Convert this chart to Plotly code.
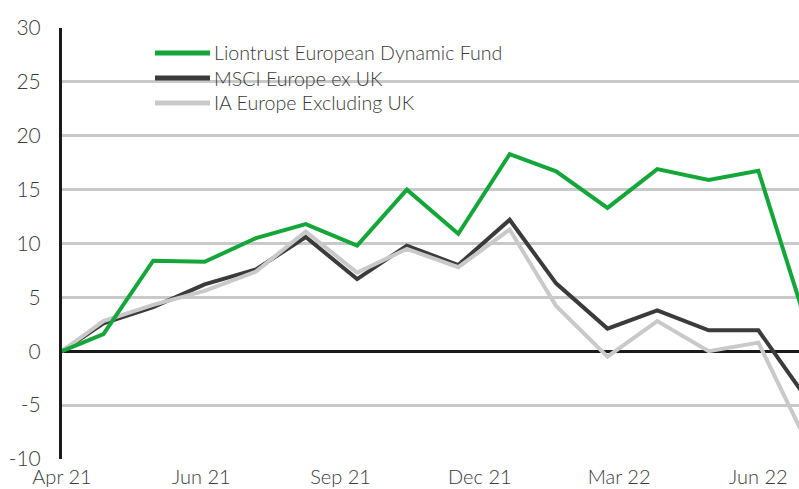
import pandas as pd
import plotly.graph_objects as go

dates = ["2021-05-06", "2021-05-31", "2021-06-30", "2021-07-31", "2021-08-31",
         "2021-09-30", "2021-10-31", "2021-11-30", "2021-12-31", "2022-01-31",
         "2022-02-28", "2022-03-31", "2022-04-30", "2022-05-31", "2022-06-30",
         "2022-07-31"]

liontrust = [0, 1.6, 8.4, 8.3, 10.5, 11.8, 9.8, 15.0, 10.9, 18.3, 16.7, 13.3,
             16.9, 15.9, 16.75, 1.6]
msci = [0, 2.6, 4.1, 6.2, 7.6, 10.6, 6.7, 9.8, 8.0, 12.2, 6.3, 2.1, 3.8, 1.95,
        1.95, -4.8]
ia = [0, 2.8, 4.3, 5.6, 7.4, 11.1, 7.3, 9.5, 7.8, 11.3, 4.2, -0.5, 2.8, 0.0,
      0.8, -9.0]

series_names = ["Liontrust European Dynamic Fund", "MSCI Europe ex UK",
                "IA Europe Excluding UK"]
tick_labels = ["Apr 21", "Jun 21", "Sep 21", "Dec 21", "Mar 22", "Jun 22"]
y_ticks = [-10, -5, 0, 5, 10, 15, 20, 25, 30]
y_tick_text = ["-10", "-5", "0", "5", "10", "15", "20", "25", "30"]

GREEN = "#15a63a"
DARK = "#3b3b3b"
LIGHT = "#c9c9c9"
TEXT = "#3a3a3a"
FONT = "Lato"

W, H = 799, 489
ML, MR, MT, MB = 62, 0, 28, 30
PW, PH = W - ML - MR, H - MT - MB

x = pd.to_datetime(dates)
tickvals = pd.date_range(x[0], pd.Timestamp("2022-06-30"), periods=len(tick_labels))

series = [
    (series_names[0], liontrust, GREEN),
    (series_names[1], msci, DARK),
    (series_names[2], ia, LIGHT),
]

fig = go.Figure()
# draw order: dark, light, green on top
for idx in (1, 2, 0):
    name, vals, col = series[idx]
    fig.add_trace(go.Scatter(x=x, y=vals, name=name, mode="lines",
                             line=dict(color=col, width=4), showlegend=False))

# legend drawn as line samples + text (matches the reference's compact rows)
def px_x(p):
    return (p - ML) / PW

def px_y(p):
    return (H - MB - p) / PH

legend_rows = [53, 78, 103]
for (name, _, col), ry in zip(series, legend_rows):
    fig.add_shape(type="line", xref="paper", yref="paper",
                  x0=px_x(155), x1=px_x(210), y0=px_y(ry), y1=px_y(ry),
                  line=dict(color=col, width=5))
    fig.add_annotation(text=name, xref="paper", yref="paper",
                       x=px_x(212), y=px_y(ry), xanchor="left", yanchor="middle",
                       showarrow=False,
                       font=dict(size=19.6, color=TEXT, family=FONT, weight=300))

fig.update_layout(
    width=W, height=H,
    margin=dict(l=ML, r=MR, t=MT, b=MB),
    paper_bgcolor="white", plot_bgcolor="white",
    font=dict(family=FONT, color=TEXT, size=20),
    showlegend=False,
)
fig.update_xaxes(
    range=[x[0], pd.Timestamp("2022-07-24 12:00")],
    tickvals=tickvals, ticktext=tick_labels,
    showgrid=False, zeroline=False, showline=False, ticks="",
    automargin=False, ticklabelstandoff=4,
    tickfont=dict(size=20, color=TEXT, family=FONT, weight=300),
)
fig.update_yaxes(
    range=[-10, 30], tickvals=y_ticks, ticktext=y_tick_text,
    showgrid=True, gridcolor=LIGHT, gridwidth=2.5,
    zeroline=True, zerolinecolor="#1a1a1a", zerolinewidth=2.5,
    showline=True, linecolor="#1a1a1a", linewidth=3,
    ticks="", ticklabelstandoff=14, automargin=False,
    tickfont=dict(size=21, color=TEXT, family=FONT, weight=300),
)

fig.write_html("out.html",
               config={"displayModeBar": False},
               post_script="document.body.style.margin='0';"
                           "document.body.style.overflow='hidden';")
